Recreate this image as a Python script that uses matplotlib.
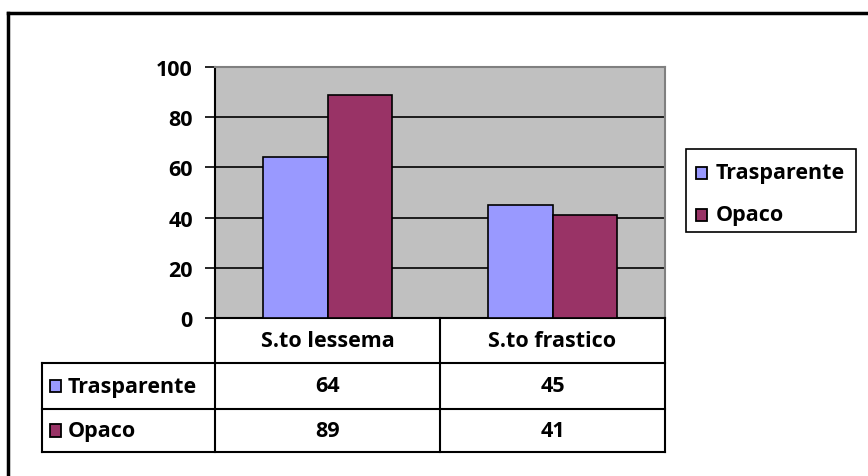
import matplotlib.pyplot as plt
import numpy as np

categories = ["S.to lessema", "S.to frastico"]
series_names = ["Trasparente", "Opaco"]
trasparente = [64, 45]
opaco = [89, 41]
colors = ["#9999FF", "#993366"]

W, H = 868, 477
fig = plt.figure(figsize=(W / 100, H / 100), dpi=100)
plt.rcParams['font.family'] = ['Open Sans', 'DejaVu Sans']
FS = 15.5


def fx(px):
    return px / W


def fy(py):
    return 1 - py / H


# plot area in pixels
x0, x1, ytop, ybot = 215, 665, 68, 319
ax = fig.add_axes([fx(x0), fy(ybot), fx(x1) - fx(x0), fy(ytop) - fy(ybot)])
ax.set_facecolor("#C0C0C0")
ax.set_xlim(0, len(categories))
ax.set_ylim(0, 100)

bw = 0.285
xs = np.arange(len(categories)) + 0.5
values = [trasparente, opaco]
for i, vals in enumerate(values):
    ax.bar(xs + (i - 0.5) * bw, vals, width=bw, color=colors[i],
           edgecolor="black", linewidth=1.2, zorder=3)

ax.set_yticks(np.arange(0, 101, 20))
ax.set_yticklabels([str(v) for v in range(0, 101, 20)], fontsize=FS, fontweight="bold")
ax.yaxis.grid(True, color="black", linewidth=1.2, zorder=1)
ax.tick_params(axis="y", length=7, width=1.2, pad=9)
ax.set_xticks([])
ax.spines["left"].set_linewidth(1.5)
ax.spines["bottom"].set_linewidth(1.5)
for s in ["top", "right"]:
    ax.spines[s].set_color("#808080")
    ax.spines[s].set_linewidth(1.5)
ax.set_axisbelow(True)

# data table below the plot
col_x = [x0 + (x1 - x0) * k / len(categories) for k in range(len(categories) + 1)]
row_y = [319, 364, 410, 453]
left_x = 42


def line(xa, ya, xb, yb, lw=1.5):
    fig.add_artist(plt.Line2D([fx(xa), fx(xb)], [fy(ya), fy(yb)], color="black", lw=lw))


def swatch(px, cy, color):
    fig.add_artist(plt.Rectangle((fx(px), fy(cy + 6)), fx(11), fy(cy - 6) - fy(cy + 6),
                                 facecolor=color, edgecolor="black", lw=1.3))


for y in row_y[1:]:
    line(left_x, y, x1, y)
for x in col_x:
    line(x, row_y[0], x, row_y[-1])
line(left_x, row_y[1], left_x, row_y[-1])

for j, cat in enumerate(categories):
    cx = (col_x[j] + col_x[j + 1]) / 2
    fig.text(fx(cx), fy((row_y[0] + row_y[1]) / 2), cat, ha="center", va="center",
             fontsize=FS, fontweight="bold")
    for i, vals in enumerate(values):
        fig.text(fx(cx), fy((row_y[i + 1] + row_y[i + 2]) / 2), str(vals[j]),
                 ha="center", va="center", fontsize=FS, fontweight="bold")

for i, name in enumerate(series_names):
    cy = (row_y[i + 1] + row_y[i + 2]) / 2
    swatch(50, cy, colors[i])
    fig.text(fx(68), fy(cy), name, ha="left", va="center", fontsize=FS, fontweight="bold")

# legend
lx0, lx1, ly0, ly1 = 686, 856, 150, 233
fig.add_artist(plt.Rectangle((fx(lx0), fy(ly1)), fx(lx1 - lx0), fy(ly0) - fy(ly1),
                             facecolor="white", edgecolor="black", lw=1.2))
for i, name in enumerate(series_names):
    cy = 174 + i * 42
    swatch(696, cy, colors[i])
    fig.text(fx(716), fy(cy), name, ha="left", va="center", fontsize=FS, fontweight="bold")

# outer chart frame
line(8, 14, W, 14, lw=2.5)
line(8, 14, 8, H, lw=2.5)

fig.savefig("out.png", dpi=100)
